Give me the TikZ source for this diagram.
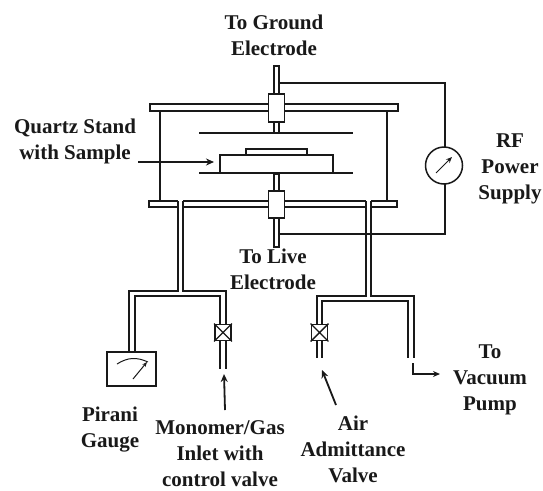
\documentclass[tikz,border=0pt]{standalone}
\usepackage{fontspec}
\setmainfont{Liberation Serif}
\usetikzlibrary{arrows.meta}
\tikzset{
  x=1pt,y=-1pt,
  lbl/.style={font=\fontsize{21}{26}\selectfont\bfseries,align=center,inner sep=0pt,text=black!90,
    execute at begin node={\rule{0pt}{15pt}},execute at end node={\rule[-5pt]{0pt}{5pt}}},
  ln/.style={draw=black!90,line width=1.7pt},
  thin ln/.style={draw=black!90,line width=1.5pt},
  arr/.style={draw=black!90,line width=1.8pt,-{Stealth[length=8pt,width=7pt]}},
  valvebox/.style={draw=black!90,line width=1.8pt,fill=white,minimum width=16pt,minimum height=16pt,inner sep=0pt},
}
\begin{document}
\begin{tikzpicture}
\useasboundingbox (0,0) rectangle (543,490);
\fill[white] (0,0) rectangle (543,490);
% walls
\draw[thin ln] (160,111) -- (160,201);
\draw[thin ln] (387,111) -- (387,201);
% wires
\coordinate (topwire) at (279,83);
\coordinate (botwire) at (279,234);
\node[draw=black!90,line width=1.5pt,circle,minimum size=37pt,inner sep=0pt,fill=white] (meter) at (444,165.5) {};
\draw[thin ln] (topwire) -- (445,83) -- (445,147);
\draw[thin ln] (botwire) -- (445,234) -- (445,184);
\draw[-{Stealth[length=6pt,width=5pt]},line width=1pt,draw=black!90] (436,173) -- (452,157);
% rods
\draw[ln,fill=white] (274,66) rectangle (279,133);
\draw[ln,fill=white] (274,174) rectangle (279,247);
% plates
\draw[ln,fill=white] (150,104) rectangle (398,111);
\draw[ln,fill=white] (149,201) rectangle (397,207);
% electrode blocks
\node[ln,fill=white,minimum width=16pt,minimum height=28pt,inner sep=0pt] (topblock) at (276.5,108) {};
\node[ln,fill=white,minimum width=16pt,minimum height=27pt,inner sep=0pt] (botblock) at (276.5,204.5) {};
% electrodes and stand
\draw[ln] (199,133) -- (353,133);
\draw[ln] (199,173) -- (353,173);
\draw[ln] (220,173) -- (220,155) -- (333,155) -- (333,173);
\draw[ln,line width=2pt] (246,155) -- (246,148.5) -- (307,148.5) -- (307,155);
% left pipe
\fill[white] (178,200) rectangle (183,208);
\draw[thin ln] (178,201) -- (178,291) -- (129,291) -- (129,352);
\draw[thin ln] (183,201) -- (183,291) -- (226,291) -- (226,324);
\draw[thin ln] (135,352) -- (135,296) -- (220,296) -- (220,324);
\node[ln,fill=white,minimum width=49pt,minimum height=34pt,inner sep=0pt] (gauge) at (131.5,369) {};
\draw[line width=1pt,draw=black!90] (117,364) .. controls (128,357) and (137,357) .. (148,362);
\draw[-{Stealth[length=5pt,width=4pt]},line width=1pt,draw=black!90] (133,379) -- (147,362);
\node[valvebox] (valveA) at (223,332.5) {};
\draw[line width=1.4pt,draw=black!90] (valveA.north west) -- (valveA.south east) (valveA.north east) -- (valveA.south west);
\draw[thin ln] (220,341) -- (220,369) (226,341) -- (226,369);
% right pipe
\fill[white] (366,200) rectangle (371,208);
\draw[thin ln] (366,201) -- (366,296) -- (317,296) -- (317,324);
\draw[thin ln] (371,201) -- (371,296) -- (414,296) -- (414,358);
\draw[thin ln] (322,324) -- (322,301) -- (408,301) -- (408,358);
\node[valvebox] (valveB) at (319.5,332.5) {};
\draw[line width=1.4pt,draw=black!90] (valveB.north west) -- (valveB.south east) (valveB.north east) -- (valveB.south west);
\draw[thin ln] (317,341) -- (317,358) (322,341) -- (322,358);
% arrows
\draw[arr] (138,162) -- (214,162);
\draw[arr] (225,410) -- (224,374);
\draw[arr] (336,405) -- (322,370);
\draw[line width=1.6pt,draw=black!90,-{Stealth[length=7pt,width=6pt]}] (413,363) -- (413,374) -- (440,374);
% labels
\node[lbl] (l1) at (274,38) {To Ground\\Electrode};
\node[lbl] (l2) at (75,142) {Quartz Stand\\with Sample};
\node[lbl] (l3) at (510,169) {RF\\Power\\Supply};
\node[lbl] (l4) at (273,272) {To Live\\Electrode};
\node[lbl] (l5) at (110,430) {Pirani\\Gauge};
\node[lbl] (l6) at (220,456) {Monomer/Gas\\Inlet with\\control valve};
\node[lbl] (l7) at (353,452) {Air\\Admittance\\Valve};
\node[lbl] (l8) at (490,380) {To\\Vacuum\\Pump};
\end{tikzpicture}
\end{document}
